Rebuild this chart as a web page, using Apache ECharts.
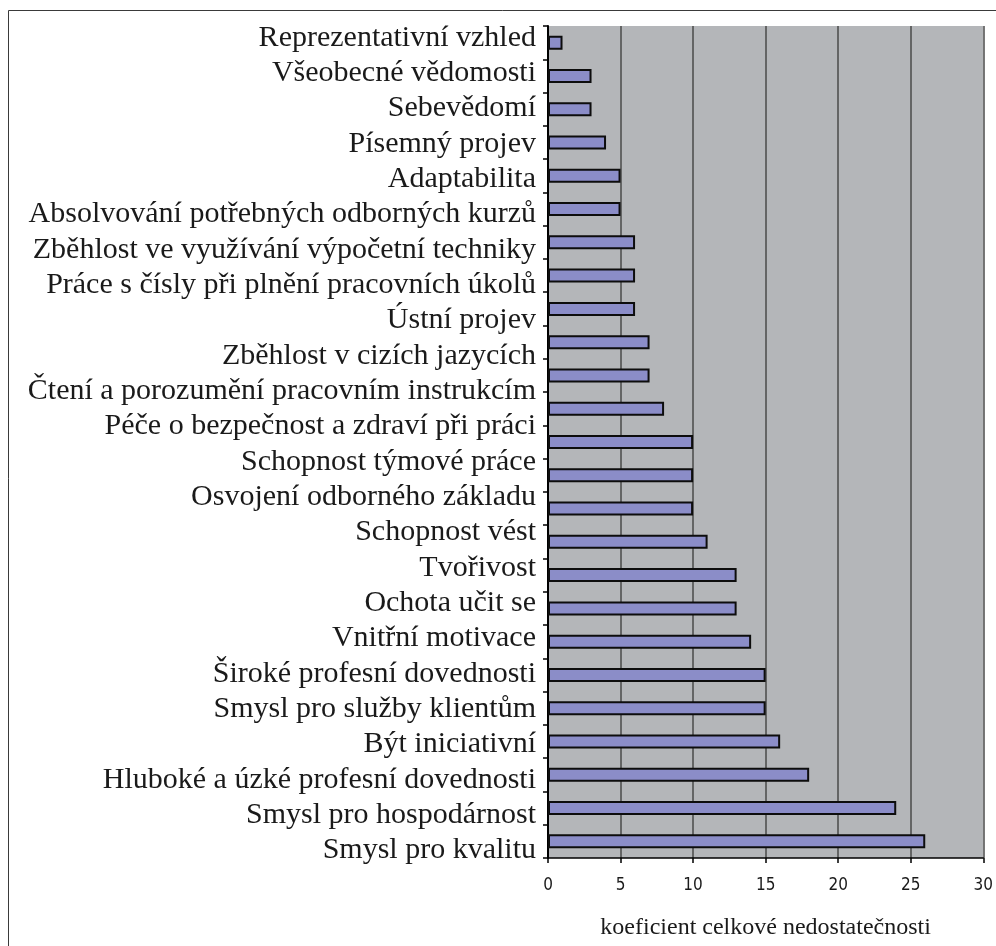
<!DOCTYPE html>
<html>
<head>
<meta charset="utf-8">
<script src="https://cdn.jsdelivr.net/npm/echarts@6/dist/echarts.min.js"></script>
<style>
  html, body { margin: 0; padding: 0; background: #ffffff; }
  #chart { width: 996px; height: 946px; }
</style>
</head>
<body>
<div id="chart"></div>
<script>
// Competence labels, listed top to bottom
const competences = [
  'Reprezentativní vzhled',
  'Všeobecné vědomosti',
  'Sebevědomí',
  'Písemný projev',
  'Adaptabilita',
  'Absolvování potřebných odborných kurzů',
  'Zběhlost ve využívání výpočetní techniky',
  'Práce s čísly při plnění pracovních úkolů',
  'Ústní projev',
  'Zběhlost v cizích jazycích',
  'Čtení a porozumění pracovním instrukcím',
  'Péče o bezpečnost a zdraví při práci',
  'Schopnost týmové práce',
  'Osvojení odborného základu',
  'Schopnost vést',
  'Tvořivost',
  'Ochota učit se',
  'Vnitřní motivace',
  'Široké profesní dovednosti',
  'Smysl pro služby klientům',
  'Být iniciativní',
  'Hluboké a úzké profesní dovednosti',
  'Smysl pro hospodárnost',
  'Smysl pro kvalitu'
];

// Bar values (koeficient celkové nedostatečnosti), top to bottom
const coefficients = [1, 3, 3, 4, 5, 5, 6, 6, 6, 7, 7, 8, 10, 10, 10, 11, 13, 13, 14, 15, 15, 16, 18, 24, 26];

// Value axis range and step
const axisMin = 0;
const axisMax = 30;
const axisStep = 5;

const axisTitle = 'koeficient celkové nedostatečnosti';

const barSlots = coefficients.map((_, i) => String(i + 1));

const chart = echarts.init(document.getElementById('chart'), null, { renderer: 'canvas' });

const serif = "'Liberation Serif', 'DejaVu Serif', serif";

chart.setOption({
  animation: false,
  backgroundColor: '#ffffff',
  graphic: [{
    type: 'rect',
    shape: { x: 8.5, y: 10.5, width: 1000, height: 1000 },
    style: { fill: 'none', stroke: '#3a3a3a', lineWidth: 1 },
    silent: true,
    z: 0
  }],
  grid: [
    {
      left: 548, top: 26, width: 439, height: 832,
      show: true, backgroundColor: '#b4b6b9', borderWidth: 0
    },
    {
      left: 548, top: 20, width: 439, height: 848,
      show: false
    }
  ],
  xAxis: [
    {
      type: 'value', gridIndex: 0,
      min: axisMin, max: axisMax, interval: axisStep,
      axisLine: { show: true, onZero: false, lineStyle: { color: '#000', width: 1.5 } },
      axisTick: { show: true, inside: false, length: 5, lineStyle: { color: '#000', width: 1.5 } },
      axisLabel: {
        margin: 19,
        fontFamily: "'Liberation Sans Narrow', 'DejaVu Sans Condensed', 'Liberation Sans', sans-serif",
        fontSize: 17, color: '#1a1a1a'
      },
      splitLine: { show: true, lineStyle: { color: '#4a4a4a', width: 1.5 } },
      name: axisTitle,
      nameLocation: 'middle',
      nameGap: 58,
      nameTextStyle: { fontFamily: serif, fontSize: 24, color: '#1a1a1a' }
    },
    {
      type: 'value', gridIndex: 1, min: 0, max: 1, show: false
    }
  ],
  yAxis: [
    {
      type: 'category', gridIndex: 0, data: barSlots, inverse: true,
      axisLine: { show: true, lineStyle: { color: '#000', width: 2 } },
      axisTick: { show: true, inside: false, length: 5, alignWithLabel: false, lineStyle: { color: '#000', width: 1.5 } },
      axisLabel: { show: false },
      splitLine: { show: false }
    },
    {
      type: 'category', gridIndex: 1, data: competences, inverse: true,
      axisLine: { show: false },
      axisTick: { show: false },
      splitLine: { show: false },
      axisLabel: {
        interval: 0,
        margin: 12,
        fontFamily: serif, fontSize: 30, color: '#1a1a1a'
      }
    }
  ],
  series: [
    {
      type: 'bar',
      xAxisIndex: 0, yAxisIndex: 0,
      data: coefficients,
      barWidth: 14,
      itemStyle: { color: '#8b8dc8', borderColor: '#0d0d0d', borderWidth: 2 },
      z: 3
    },
    {
      type: 'line',
      xAxisIndex: 1, yAxisIndex: 1,
      data: [],
      silent: true
    }
  ]
});
</script>
</body>
</html>
